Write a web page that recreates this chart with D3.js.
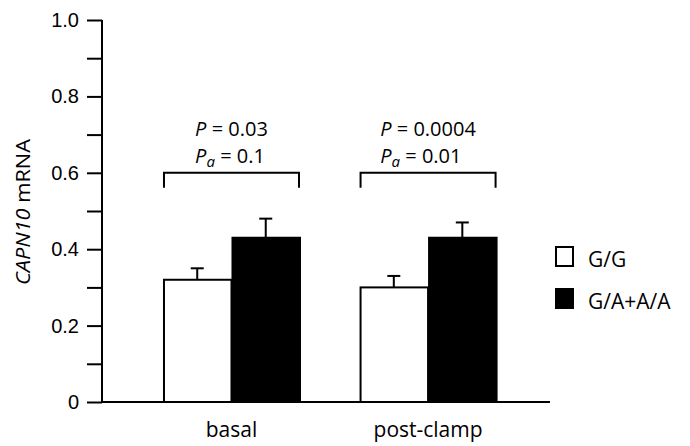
<!DOCTYPE html>
<html>
<head>
<meta charset="utf-8">
<script src="https://cdn.jsdelivr.net/npm/d3@7"></script>
<style>
  body { margin: 0; background: #fff; }
  svg { font-family: "Open Sans", sans-serif; }
</style>
</head>
<body>
<svg width="690" height="446"></svg>
<script>
// data
const conditions = ["basal", "post-clamp"];
const genotypes = ["G/G", "G/A+A/A"];
const means = [[0.32, 0.43], [0.30, 0.43]];   // per condition: G/G, G/A+A/A
const errors = [[0.03, 0.05], [0.03, 0.04]];  // upper SEM
const pValues = ["0.03", "0.0004"];
const paValues = ["0.1", "0.01"];
const yTicks = [0, 0.1, 0.2, 0.3, 0.4, 0.5, 0.6, 0.7, 0.8, 0.9, 1.0];
const bracketLevel = 0.6;

const svg = d3.select("svg");
const fills = ["#fff", "#000"];

// --- scales ---
const y = d3.scaleLinear().domain([0, 1]).range([402, 20]);

const x = d3.scaleBand()
  .domain(conditions)
  .range([102, 550])
  .paddingInner(0.303)
  .paddingOuter(0.291)
  .align(0.533);

const xSub = d3.scaleBand()
  .domain(genotypes)
  .range([0, x.bandwidth()]);

// --- y axis ---
const yAxis = svg.append("g")
  .attr("transform", "translate(102,0)")
  .call(d3.axisLeft(y)
    .tickValues(yTicks)
    .tickSize(15)
    .tickPadding(8)
    .tickFormat(d => {
      const i = Math.round(d * 10);
      if (i % 2) return "";
      return i === 0 ? "0" : d3.format(".1f")(d);
    }));
yAxis.select(".domain").attr("stroke-width", 2).attr("d", "M0,402V20");
yAxis.selectAll(".tick line").attr("stroke-width", 2);
yAxis.selectAll(".tick text")
  .attr("font-size", null)
  .style("font-size", "20px")
  .attr("fill", "#000");

// baseline
svg.append("line")
  .attr("x1", 101).attr("x2", 550)
  .attr("y1", y(0)).attr("y2", y(0))
  .attr("stroke", "#000").attr("stroke-width", 2);

// y label
svg.append("text")
  .attr("transform", `translate(30,212) rotate(-90)`)
  .attr("text-anchor", "middle")
  .attr("textLength", 146)
  .attr("lengthAdjust", "spacingAndGlyphs")
  .style("font-size", "20px")
  .html('<tspan font-style="italic">CAPN10</tspan> mRNA');

// --- bars ---
const groups = svg.selectAll("g.cond")
  .data(conditions)
  .join("g")
  .attr("class", "cond")
  .attr("transform", d => `translate(${x(d)},0)`);

groups.each(function (c, ci) {
  const g = d3.select(this);
  genotypes.forEach((gt, gi) => {
    const v = means[ci][gi];
    const e = errors[ci][gi];
    const cx = xSub(gt) + xSub.bandwidth() / 2;
    // error bar (upper only)
    g.append("line")
      .attr("x1", cx).attr("x2", cx)
      .attr("y1", y(v)).attr("y2", y(v + e))
      .attr("stroke", "#000").attr("stroke-width", 2);
    g.append("line")
      .attr("x1", cx - 6.5).attr("x2", cx + 6.5)
      .attr("y1", y(v + e)).attr("y2", y(v + e))
      .attr("stroke", "#000").attr("stroke-width", 2);
    g.append("rect")
      .attr("x", xSub(gt) + 1)
      .attr("y", y(v))
      .attr("width", xSub.bandwidth() - 1)
      .attr("height", y(0) - y(v))
      .attr("fill", fills[gi])
      .attr("stroke", "#000")
      .attr("stroke-width", 2);
  });

  // bracket
  const by = y(bracketLevel);
  g.append("path")
    .attr("d", `M1,${by + 15}V${by}H${x.bandwidth() - 1}V${by + 15}`)
    .attr("fill", "none")
    .attr("stroke", "#000")
    .attr("stroke-width", 2);

  // P values
  const t1 = g.append("text")
    .attr("x", x.bandwidth() / 2)
    .attr("y", by - 37)
    .attr("text-anchor", "middle")
    .style("font-size", "20px")
    .html(`<tspan font-style="italic">P</tspan> = ${pValues[ci]}`);
  const left = t1.node().getBBox().x;
  g.append("text")
    .attr("x", left)
    .attr("y", by - 10)
    .style("font-size", "20px")
    .html(`<tspan font-style="italic">P</tspan><tspan font-style="italic" font-size="15px" dy="4">a</tspan><tspan dy="-4"> = ${paValues[ci]}</tspan>`);
});

// x labels
svg.selectAll("text.xlab")
  .data(conditions)
  .join("text")
  .attr("class", "xlab")
  .attr("x", d => x(d) + x.bandwidth() / 2)
  .attr("y", 437)
  .attr("text-anchor", "middle")
  .style("font-size", "21px")
  .text(d => d);

// --- legend ---
const legend = svg.selectAll("g.leg")
  .data(genotypes)
  .join("g")
  .attr("class", "leg")
  .attr("transform", (d, i) => `translate(556,${247 + i * 42})`);
legend.append("rect")
  .attr("width", 17).attr("height", 19)
  .attr("fill", (d, i) => fills[i])
  .attr("stroke", "#000").attr("stroke-width", 2);
legend.append("text")
  .attr("x", 32).attr("y", 20)
  .style("font-size", "21px")
  .text(d => d);
</script>
</body>
</html>
